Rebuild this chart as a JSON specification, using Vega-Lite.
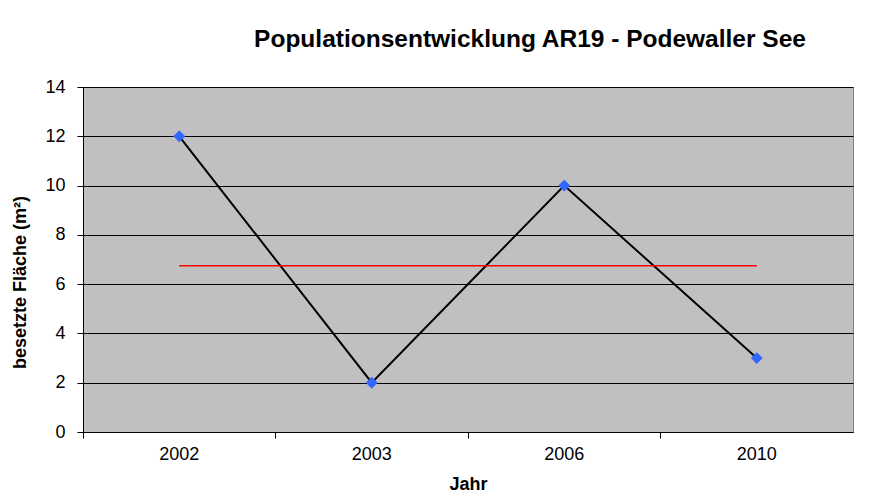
{
  "$schema": "https://vega.github.io/schema/vega-lite/v6.json",
  "autosize": "none",
  "width": 770,
  "height": 345,
  "padding": {"left": 83, "top": 87, "right": 41, "bottom": 70},
  "background": "white",
  "title": {
    "text": "Populationsentwicklung AR19 - Podewaller See",
    "font": "Liberation Sans",
    "fontSize": 24.5,
    "fontWeight": "bold",
    "color": "black",
    "anchor": "middle",
    "dx": 62,
    "offset": 26
  },
  "config": {
    "view": {"fill": "#C0C0C0", "stroke": "#808080", "strokeWidth": 1},
    "axis": {
      "labelFont": "Liberation Sans",
      "labelFontSize": 18,
      "labelColor": "black",
      "titleFont": "Liberation Sans",
      "titleFontSize": 18,
      "titleFontWeight": "bold",
      "titleColor": "black",
      "domainColor": "black",
      "tickColor": "black",
      "tickSize": 6
    }
  },
  "data": {
    "values": [
      {"Jahr": "2002", "value": 12, "mean": 6.75},
      {"Jahr": "2003", "value": 2, "mean": 6.75},
      {"Jahr": "2006", "value": 10, "mean": 6.75},
      {"Jahr": "2010", "value": 3, "mean": 6.75}
    ]
  },
  "encoding": {
    "x": {
      "field": "Jahr",
      "type": "ordinal",
      "bandPosition": 0.5,
      "scale": {"type": "band", "paddingInner": 0, "paddingOuter": 0},
      "axis": {
        "title": "Jahr",
        "labelAngle": 0,
        "bandPosition": 0,
        "grid": false,
        "labelPadding": 7,
        "titlePadding": 12
      }
    }
  },
  "layer": [
    {
      "mark": {"type": "line", "color": "black", "strokeWidth": 2},
      "encoding": {
        "y": {
          "field": "value",
          "type": "quantitative",
          "scale": {"domain": [0, 14]},
          "axis": {
            "title": "besetzte Fläche (m²)",
            "values": [0, 2, 4, 6, 8, 10, 12, 14],
            "grid": true,
            "gridColor": "black",
            "gridOpacity": 1,
            "gridWidth": 1,
            "labelPadding": 12,
            "titlePadding": 15,
            "titleY": 195
          }
        }
      }
    },
    {
      "mark": {"type": "line", "color": "#FF0000", "strokeWidth": 1.5},
      "encoding": {"y": {"field": "mean", "type": "quantitative"}}
    },
    {
      "mark": {"type": "point", "shape": "diamond", "filled": true, "color": "#3366FF", "opacity": 1, "size": 140},
      "encoding": {"y": {"field": "value", "type": "quantitative"}}
    }
  ]
}
